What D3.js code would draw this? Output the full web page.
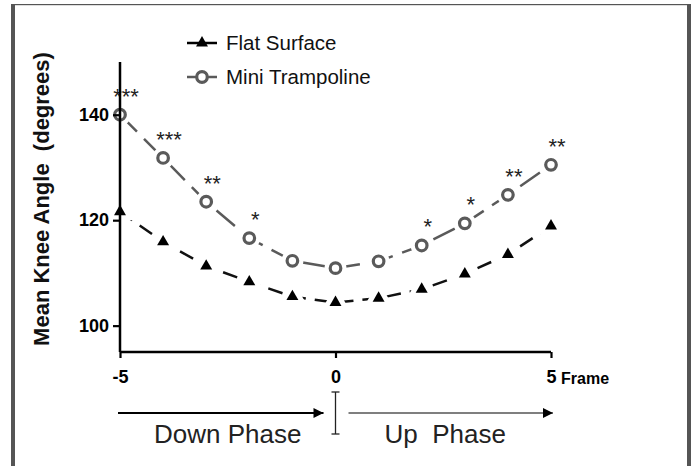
<!DOCTYPE html>
<html>
<head>
<meta charset="utf-8">
<title>Mean Knee Angle by Frame</title>
<script src="https://d3js.org/d3.v7.min.js"></script>
<style>
  body { margin: 0; background: #fff; }
  svg { display: block; font-family: "Liberation Sans", Arial, sans-serif; }
  .pre { white-space: pre; }
</style>
</head>
<body>
<div id="chart"></div>
<script>
// values
const frames = [-5, -4, -3, -2, -1, 0, 1, 2, 3, 4, 5];
const flatSurface = [121.6, 115.9, 111.3, 108.3, 105.5, 104.4, 105.2, 106.9, 109.8, 113.5, 118.9];
const miniTrampoline = [140.0, 131.8, 123.5, 116.6, 112.3, 110.9, 112.2, 115.2, 119.4, 124.8, 130.5];
const stars = ["***", "***", "**", "*", "", "", "", "*", "*", "**", "**"];
const yTicks = [100, 120, 140];
const xTicks = [-5, 0, 5];

const width = 692;
const height = 466;
const grey = "#5a5a5a";

const svg = d3.select("#chart")
    .append("svg")
    .attr("width", width)
    .attr("height", height);

// frame round the figure
svg.append("rect").attr("x", 11).attr("y", 4).attr("width", 4).attr("height", height - 4).attr("fill", "#555");
svg.append("rect").attr("x", 687).attr("y", 4).attr("width", 4).attr("height", height - 4).attr("fill", "#555");
svg.append("rect").attr("x", 11).attr("y", 4).attr("width", 680).attr("height", 1.2).attr("fill", "#555");

const x = d3.scaleLinear().domain([-5, 5]).range([120, 551]);
const y = d3.scaleLinear().domain([95, 150]).range([352, 62]);

const flatData = frames.map((f, i) => ({ f: f, v: flatSurface[i] }));
const trampData = frames.map((f, i) => ({ f: f, v: miniTrampoline[i], s: stars[i] }));

const line = d3.line().x(d => x(d.f)).y(d => y(d.v));

// dashed lines
svg.append("path")
    .datum(flatData)
    .attr("d", line)
    .attr("fill", "none")
    .attr("stroke", "#111")
    .attr("stroke-width", 2.5)
    .attr("stroke-dasharray", "15,9");

svg.append("path")
    .datum(trampData)
    .attr("d", line)
    .attr("fill", "none")
    .attr("stroke", grey)
    .attr("stroke-width", 2.5)
    .attr("stroke-dasharray", "24,10");

const tri = d3.symbol().type(d3.symbolTriangle).size(62);

// triangles with a white halo so the dashes stop short of them
svg.selectAll(".tri-halo")
    .data(flatData)
    .join("path")
    .attr("transform", d => `translate(${x(d.f)},${y(d.v)})`)
    .attr("d", tri)
    .attr("fill", "#fff")
    .attr("stroke", "#fff")
    .attr("stroke-width", 10);

svg.selectAll(".tri")
    .data(flatData)
    .join("path")
    .attr("transform", d => `translate(${x(d.f)},${y(d.v)})`)
    .attr("d", tri)
    .attr("fill", "#000");

svg.selectAll(".circ-halo")
    .data(trampData)
    .join("circle")
    .attr("cx", d => x(d.f))
    .attr("cy", d => y(d.v))
    .attr("r", 11)
    .attr("fill", "#fff");

svg.selectAll(".circ")
    .data(trampData)
    .join("circle")
    .attr("cx", d => x(d.f))
    .attr("cy", d => y(d.v))
    .attr("r", 5.3)
    .attr("fill", "none")
    .attr("stroke", grey)
    .attr("stroke-width", 3.2);

// significance stars
svg.selectAll(".star")
    .data(trampData.filter(d => d.s))
    .join("text")
    .attr("x", d => x(d.f) + 6)
    .attr("y", d => y(d.v) - 11)
    .attr("text-anchor", "middle")
    .attr("font-size", 22)
    .attr("fill", "#222")
    .text(d => d.s);

// axes (drawn over the markers, as in the figure)
const yAxis = svg.append("g")
    .attr("transform", "translate(120,0)")
    .call(d3.axisLeft(y).tickValues(yTicks).tickSize(7).tickPadding(4).tickFormat(d => String(d)));
yAxis.select(".domain").attr("d", `M0,${y(150)}V${y(95)}`);

const xAxis = svg.append("g")
    .attr("transform", "translate(0,352)")
    .call(d3.axisBottom(x).tickValues(xTicks).tickSize(6).tickPadding(12).tickFormat(d => String(d)));
xAxis.select(".domain").attr("d", `M${x(-5)},0H${x(5)}`);

svg.selectAll(".domain").attr("stroke", "#000").attr("stroke-width", 2.5);
svg.selectAll(".tick line").attr("stroke", "#000").attr("stroke-width", 2.2);
svg.selectAll(".tick text")
    .attr("font-family", "Liberation Sans, Arial, sans-serif")
    .attr("font-size", 18)
    .attr("font-weight", "bold")
    .attr("fill", "#000");

svg.append("text")
    .attr("x", x(5) + 10)
    .attr("y", 384)
    .attr("font-size", 16)
    .attr("font-weight", "bold")
    .text("Frame");

svg.append("text")
    .attr("class", "pre")
    .attr("transform", "translate(49," + 199 + ") rotate(-90)")
    .attr("text-anchor", "middle")
    .attr("font-size", 22)
    .attr("font-weight", "bold")
    .attr("fill", "#111")
    .text("Mean Knee Angle  (degrees)");

// legend
const legend = [
    { label: "Flat Surface", kind: "tri", y: 43 },
    { label: "Mini Trampoline", kind: "circ", y: 77 }
];
legend.forEach(l => {
    const col = l.kind === "tri" ? "#000" : grey;
    svg.append("line")
        .attr("x1", 187).attr("x2", 217)
        .attr("y1", l.y).attr("y2", l.y)
        .attr("stroke", col).attr("stroke-width", 2.5);
    if (l.kind === "tri") {
        svg.append("path")
            .attr("transform", `translate(202,${l.y})`)
            .attr("d", tri)
            .attr("fill", "#000");
    } else {
        svg.append("circle")
            .attr("cx", 202).attr("cy", l.y).attr("r", 5.3)
            .attr("fill", "#fff").attr("stroke", grey).attr("stroke-width", 3.2);
    }
    svg.append("text")
        .attr("x", 226)
        .attr("y", l.y + 7)
        .attr("font-size", 20.5)
        .attr("fill", "#111")
        .text(l.label);
});

// phase arrows under the x axis
const defs = svg.append("defs");
defs.append("marker")
    .attr("id", "head")
    .attr("viewBox", "0 0 10 10")
    .attr("refX", 10).attr("refY", 5)
    .attr("markerUnits", "userSpaceOnUse")
    .attr("markerWidth", 13).attr("markerHeight", 10)
    .attr("orient", "auto")
    .append("path").attr("d", "M0,0L10,5L0,10Z").attr("fill", "#000");

svg.append("line")
    .attr("x1", x(-5) - 2).attr("x2", x(0) - 12)
    .attr("y1", 413).attr("y2", 413)
    .attr("stroke", "#000").attr("stroke-width", 2)
    .attr("marker-end", "url(#head)");

svg.append("line")
    .attr("x1", x(0) + 13).attr("x2", x(5) + 2)
    .attr("y1", 413).attr("y2", 413)
    .attr("stroke", "#000").attr("stroke-width", 1.2)
    .attr("marker-end", "url(#head)");

const bar = svg.append("g").attr("stroke", "#222").attr("stroke-width", 1.3);
bar.append("line").attr("x1", x(0)).attr("x2", x(0)).attr("y1", 392).attr("y2", 434);
bar.append("line").attr("x1", x(0) - 4).attr("x2", x(0) + 4).attr("y1", 392).attr("y2", 392);
bar.append("line").attr("x1", x(0) - 4).attr("x2", x(0) + 4).attr("y1", 434).attr("y2", 434);

svg.append("text")
    .attr("x", (x(-5) + x(0)) / 2)
    .attr("y", 443)
    .attr("text-anchor", "middle")
    .attr("font-size", 26)
    .attr("fill", "#222")
    .text("Down Phase");

svg.append("text")
    .attr("class", "pre")
    .attr("x", (x(0) + x(5)) / 2 + 2)
    .attr("y", 443)
    .attr("text-anchor", "middle")
    .attr("font-size", 26)
    .attr("fill", "#222")
    .text("Up  Phase");
</script>
</body>
</html>
